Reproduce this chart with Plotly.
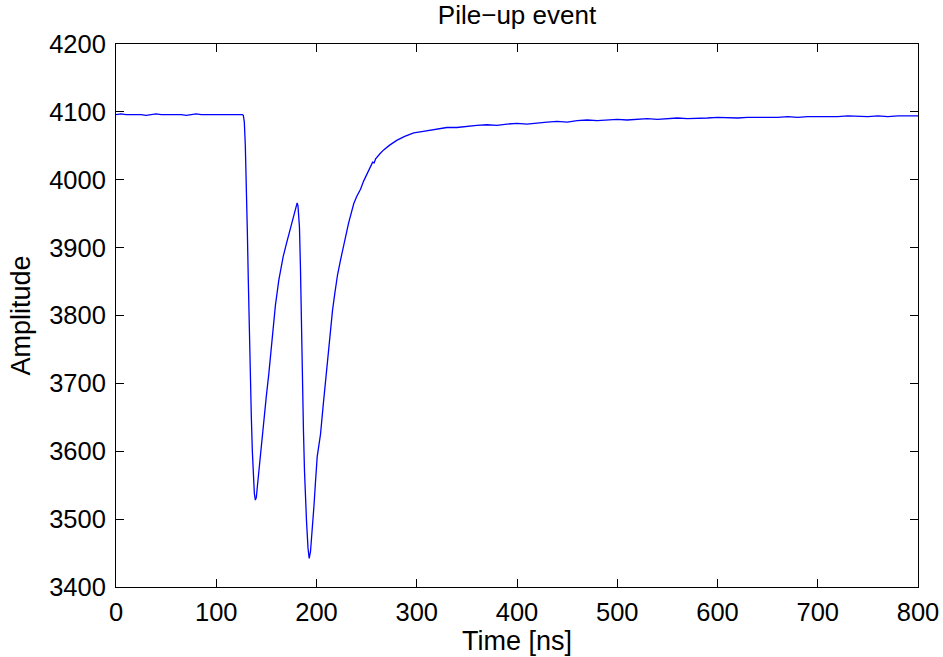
import plotly.graph_objects as go

time_ns = [0, 5, 10, 15, 20, 25, 30, 35, 40, 45, 50, 55, 60, 65, 70, 75, 80, 85, 90, 95,
           100, 105, 110, 115, 120, 125,
           126, 127, 128, 129, 130, 131, 132, 133, 134, 135, 136, 137, 138, 139, 140, 141,
           142.5, 145, 147.5, 150, 152.5, 154.5, 156.4, 159, 162.4, 164.5, 166.8, 170, 173.4,
           176, 178, 179.5, 180.7, 181.5, 182.3, 183, 184, 184.7, 185.7, 187, 188, 189, 190,
           191.5, 192.7, 194, 195.6, 197.5, 199, 200.7, 202.5, 204, 206.5, 209, 211.5, 214,
           216, 218.3, 221, 224, 226.6, 228.3, 232, 235, 237.2, 240, 243.9, 247, 250.6, 254,
           256, 257.5, 259, 263, 267, 273, 280, 288, 297, 305, 313,
           320, 330, 340, 350, 360, 370, 380, 390, 400, 410, 420, 430, 440, 450, 460, 470,
           480, 490, 500, 510, 520, 530, 540, 550, 560, 570, 580, 590, 600, 610, 620, 630,
           640, 650, 660, 670, 680, 690, 700, 710, 720, 730, 740, 750, 760, 770, 780, 790, 800]

amplitude = [4096, 4097, 4096, 4096, 4097, 4096, 4095, 4096, 4097, 4096, 4096, 4097, 4096,
             4096, 4095, 4096, 4097, 4096, 4096, 4097, 4096, 4096, 4097, 4096, 4096, 4097,
             4096, 4095, 4085, 4050, 4000, 3925, 3850, 3770, 3705, 3650, 3600, 3562, 3538,
             3528, 3532, 3548,
             3572, 3610, 3646, 3682, 3715, 3748, 3779, 3815, 3852, 3872, 3887, 3906, 3926,
             3942, 3952, 3961, 3966, 3962, 3950, 3930, 3870, 3804, 3720, 3630, 3572, 3530, 3498,
             3458, 3442, 3452, 3479, 3520, 3555, 3592, 3610, 3625, 3665, 3703, 3740, 3777,
             3808, 3833, 3860, 3882, 3898, 3911, 3936, 3955, 3965, 3975, 3986, 3998, 4010, 4020,
             4026, 4025, 4031, 4038, 4044, 4051, 4058, 4064, 4069, 4071, 4073,
             4075, 4077, 4077, 4079, 4080, 4081, 4080, 4082, 4083, 4082, 4084, 4085, 4086, 4085,
             4087, 4088, 4087, 4088, 4089, 4088, 4089, 4090, 4089, 4090, 4091, 4090, 4090, 4091,
             4092, 4091, 4091, 4092, 4092, 4091, 4092, 4093, 4092, 4093, 4093, 4092, 4093, 4094,
             4093, 4093, 4094, 4093, 4094, 4094, 4094]

x_ticks = [0, 100, 200, 300, 400, 500, 600, 700, 800]
y_ticks = [3400, 3500, 3600, 3700, 3800, 3900, 4000, 4100, 4200]

FONT = "Liberation Sans, Arial, Helvetica, sans-serif"

fig = go.Figure()
fig.add_trace(go.Scatter(x=time_ns, y=amplitude, mode="lines",
                         line=dict(color="#0000ff", width=1.3), showlegend=False))

axis_common = dict(showgrid=False, zeroline=False, showline=True, linecolor="black",
                   linewidth=1, mirror="ticks", ticks="inside", ticklen=8,
                   tickcolor="black", tickwidth=1,
                   tickfont=dict(family=FONT, size=25.5, color="black"))

fig.update_xaxes(range=[0, 800], tickvals=x_ticks, ticktext=[str(v) for v in x_ticks],
                 ticklabelstandoff=2,
                 title=dict(text="Time [ns]", font=dict(family=FONT, size=27, color="black"),
                            standoff=0),
                 **axis_common)
fig.update_yaxes(range=[3400, 4200], tickvals=y_ticks, ticktext=[str(v) for v in y_ticks],
                 ticklabelstandoff=4,
                 title=dict(text="Amplitude", font=dict(family=FONT, size=27, color="black"),
                            standoff=10),
                 **axis_common)

fig.update_layout(
    width=943, height=657,
    margin=dict(l=116, r=25, t=44, b=70, autoexpand=False),
    paper_bgcolor="white", plot_bgcolor="white",
    title=dict(text="Pile\u2212up event", font=dict(family=FONT, size=26, color="black"),
               x=0.5, xanchor="center", xref="paper", y=1 - 15 / 657, yanchor="middle",
               yref="container"),
)

fig.write_html("out.html")
